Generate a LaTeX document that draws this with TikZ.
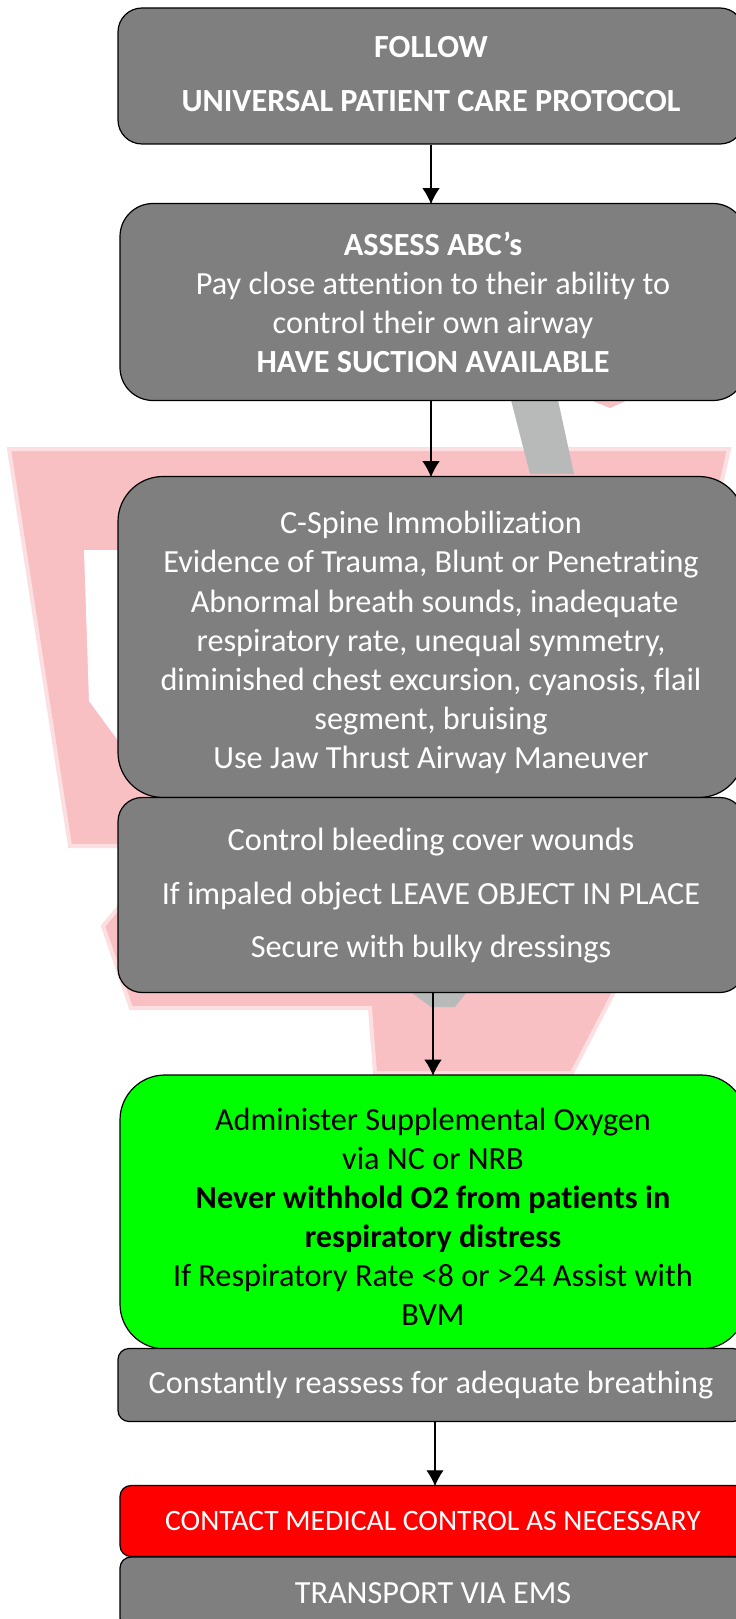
\documentclass[tikz,border=0pt]{standalone}
\usepackage{fontspec}
\setmainfont{Carlito}[Ligatures=NoCommon]
\usetikzlibrary{arrows.meta}

\def\pxu{0.75pt}
\def\dropby#1{\rule{0pt}{#1}}
\def\liftby#1{\rule[-#1]{0pt}{#1}}
\definecolor{boxgray}{HTML}{7F7F7F}
\definecolor{markpink}{HTML}{F9C0C4}
\definecolor{markgray}{HTML}{B8BABA}

\begin{document}
\begin{tikzpicture}[x=\pxu,y=-\pxu,font=\fontsize{24.2pt}{29.3pt}\selectfont]
        \tikzstyle{step box}=[draw=black,line width=0.9pt,fill=boxgray,text=white,align=center,minimum width=626*\pxu,inner sep=0pt]
        \tikzstyle{link}=[-{Latex[length=12pt,width=13pt]},draw=black,line width=0.8pt,shorten >=-1pt]
        \tikzstyle{faded mark}=[draw=markpink!50,line width=3pt,fill=markpink]

        \useasboundingbox (0,0) rectangle (735,1619);
        \fill[white] (0,0) rectangle (735,1619);

        % Draw the faded mark behind the boxes
        \path[faded mark] (9,449) -- (729,449) -- (722,480) -- (614,992) -- (572,1073) -- (375,1073) -- (370,1008)
            -- (131,1008) -- (103,926) -- (125,900) -- (125,846) -- (70,846) -- cycle;
        \fill[white] (84,550) -- (125,550) -- (125,750) -- (89,701) -- cycle;
        \fill[markgray] (511,400) -- (558,400) -- (574,474) -- (530,474) -- cycle;
        \fill[markgray] (412,993) -- (466,993) -- (455,1007) -- (431,1007) -- cycle;
        \fill[markpink] (590,400) -- (628,400) -- (610,408) -- cycle;

        % Draw the boxes from top to bottom
        \node[step box,rounded corners=24*\pxu,minimum height=136*\pxu] (follow) at (431,76)
            {\textbf{FOLLOW}\\[11pt]\textbf{UNIVERSAL PATIENT CARE PROTOCOL}\liftby{3pt}};
        \node[step box,rounded corners=33*\pxu,minimum height=197*\pxu] (assess) at (433,302)
            {\textbf{ASSESS ABC’s}\\Pay close attention to their ability to\\control their own airway\\\textbf{HAVE SUCTION AVAILABLE}};
        \node[step box,rounded corners=45*\pxu,minimum height=321*\pxu] (spine) at (431,637)
            {\dropby{25pt}C-Spine Immobilization\\Evidence of Trauma, Blunt or Penetrating\\\ Abnormal breath sounds, inadequate\\respiratory rate, unequal symmetry,\\diminished chest excursion, cyanosis, flail\\segment, bruising\\Use Jaw Thrust Airway Maneuver};
        \node[step box,rounded corners=24*\pxu,minimum height=195*\pxu] (bleed) at (431,895)
            {\dropby{18pt}Control bleeding cover wounds\\[11pt]If impaled object LEAVE OBJECT IN PLACE\\[11pt]Secure with bulky dressings};
        \node[step box,fill=green,text=black,rounded corners=45*\pxu,minimum height=274*\pxu] (oxygen) at (433,1212)
            {\dropby{24pt}Administer Supplemental Oxygen\\via NC or NRB\\\textbf{Never withhold O2 from patients in}\\\textbf{respiratory distress}\\If Respiratory Rate <8 or >24 Assist with\\BVM};
        \node[step box,rounded corners=11*\pxu,minimum height=73*\pxu] (reassess) at (431,1385)
            {Constantly reassess for adequate breathing};
        \node[step box,fill=red,rounded corners=11*\pxu,minimum height=71*\pxu,font=\fontsize{22.2pt}{29.3pt}\selectfont] (contact) at (433,1521)
            {CONTACT MEDICAL CONTROL AS NECESSARY};
        \node[step box,rounded corners=11*\pxu,minimum height=72*\pxu] (transport) at (433,1593)
            {TRANSPORT VIA EMS};

        % Connect the boxes
        \draw[link] (follow.south) -- (follow.south |- assess.north);
        \draw[link] ([xshift=-2*\pxu]assess.south) -- ([xshift=-2*\pxu]assess.south |- spine.north);
        \draw[link] ([xshift=2*\pxu]bleed.south) -- ([xshift=2*\pxu]bleed.south |- oxygen.north);
        \draw[link] ([xshift=4*\pxu]reassess.south) -- ([xshift=4*\pxu]reassess.south |- contact.north);
\end{tikzpicture}
\end{document}
